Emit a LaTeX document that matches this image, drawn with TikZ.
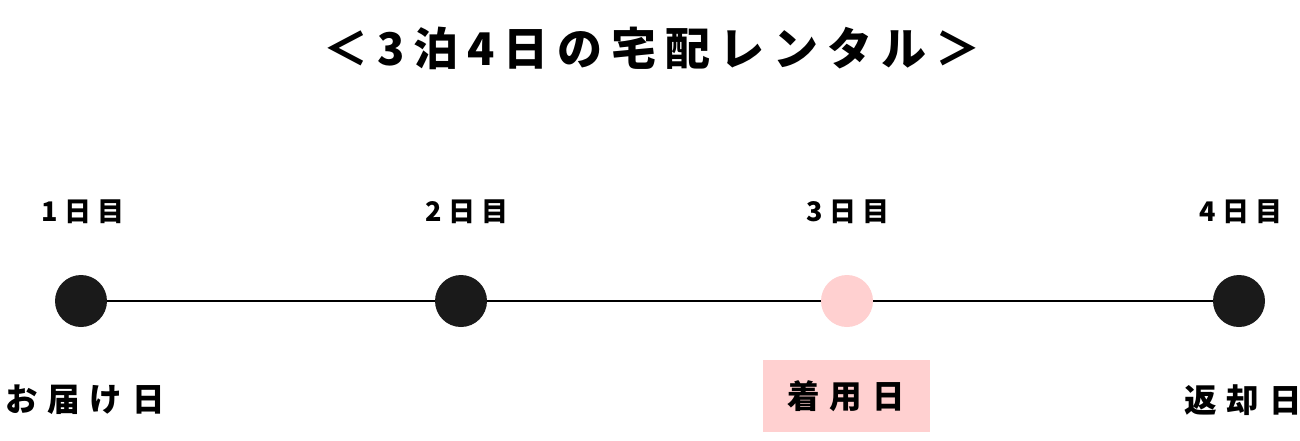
\documentclass[tikz,border=0pt]{standalone}
\usepackage{fontspec}
\usepackage{xcolor}
\usetikzlibrary{positioning}
\newfontfamily\jptitle{Noto Sans CJK JP}[LetterSpace=20]
\newfontfamily\jpday{Noto Sans CJK JP}[LetterSpace=24]
\newfontfamily\jplbl{Noto Sans CJK JP}[LetterSpace=30]
\definecolor{dotblack}{HTML}{1A1A1A}
\definecolor{wearpink}{HTML}{FFD0D0}

\begin{document}
\begin{tikzpicture}[
    x=1pt, y=-1pt,
    day/.style = {circle, fill=dotblack, minimum size=52pt, inner sep=0pt},
    wear/.style = {circle, fill=wearpink, minimum size=52pt, inner sep=0pt},
    daylbl/.style = {font=\jpday\bfseries\fontsize{27}{31}\selectfont, inner sep=0pt},
    lbl/.style = {font=\jplbl\bfseries\fontsize{32.5}{36}\selectfont, inner sep=0pt},
    link/.style = {line width=2pt}
]
\useasboundingbox (0,0) rectangle (1300,440);
\node (title) [font=\jptitle\bfseries\fontsize{45}{50}\selectfont, inner sep=0pt] at (652,48) {＜3泊4日の宅配レンタル＞};

\node (d1) [day] at (81,301) {};
\node (d2) [day] at (461,301) {};
\node (d3) [wear] at (847,301) {};
\node (d4) [day] at (1239,301) {};

\node (n1) [daylbl] at (83,212) {1日目};
\node (n2) [daylbl] at (467,212) {2日目};
\node (n3) [daylbl] at (848,212) {3日目};
\node (n4) [daylbl] at (1241,212) {4日目};

\node (deliver) [lbl] at (85,400) {お届け日};
\node (use) [lbl, fill=wearpink, minimum width=167pt, minimum height=72pt] at (846,396) {着用日};
\node (return) [lbl] at (1243,400) {返却日};

\draw[link] (d1) to (d2);
\draw[link] (d2) to (d3);
\draw[link] (d3) to (d4);
\end{tikzpicture}
\end{document}
